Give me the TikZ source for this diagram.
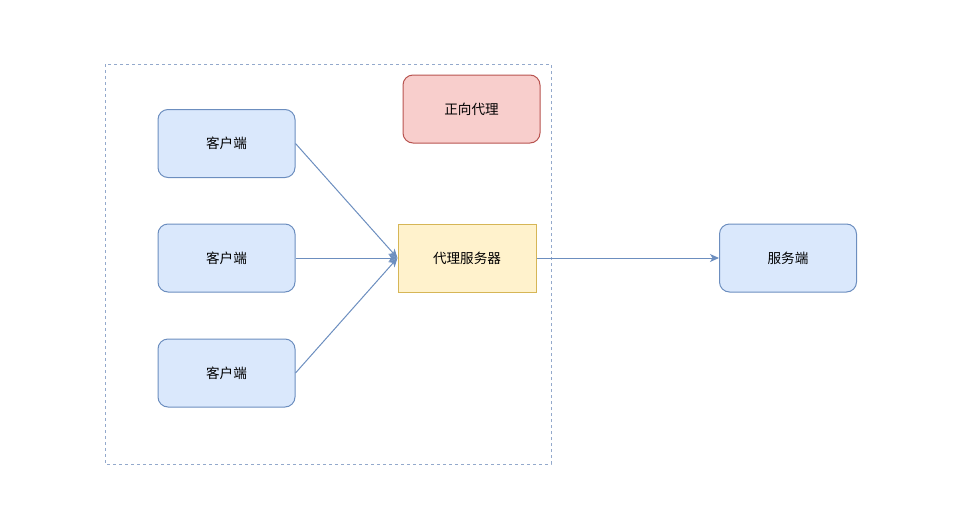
\documentclass[tikz,border=0pt]{standalone}
\usepackage{fontspec}
\newfontfamily\cjk{Noto Sans CJK SC}
\usetikzlibrary{arrows.meta}
\definecolor{bluefill}{HTML}{DAE8FC}
\definecolor{bluestroke}{HTML}{6C8EBF}
\definecolor{redfill}{HTML}{F8CECC}
\definecolor{redstroke}{HTML}{B85450}
\definecolor{yelfill}{HTML}{FFF2CC}
\definecolor{yelstroke}{HTML}{D6B656}
\definecolor{dashcol}{HTML}{93A9CC}
\begin{document}
\begin{tikzpicture}[x=1pt,y=-1pt,
  every node/.style={font=\cjk\fontsize{13.6}{16}\selectfont, text=black},
  bluebox/.style={draw=bluestroke, fill=bluefill, rounded corners=10pt, minimum width=137pt, minimum height=68pt, inner sep=0pt, line width=1pt},
  redbox/.style={draw=redstroke, fill=redfill, rounded corners=10pt, minimum width=137pt, minimum height=68pt, inner sep=0pt, line width=1pt},
  yelbox/.style={draw=yelstroke, fill=yelfill, minimum width=138pt, minimum height=68pt, inner sep=0pt, line width=1pt},
  conn/.style={draw=bluestroke, line width=1pt, -{Stealth[length=9pt,width=8pt,inset=2.5pt]}},
]
\useasboundingbox (0,0) rectangle (956,517);
\draw[dashcol, line width=1pt, dash pattern=on 3pt off 3pt] (105,64) rectangle (551,464);
\node[redbox] (fwd) at (471.5,109) {正向代理};
\node[bluebox] (c1) at (226.5,143.5) {客户端};
\node[bluebox] (c2) at (226.5,258) {客户端};
\node[bluebox] (c3) at (226.5,373) {客户端};
\node[yelbox] (proxy) at (467,258) {代理服务器};
\node[bluebox] (srv) at (788,258) {服务端};
\draw[conn] (c1.east) -- (proxy.west);
\draw[conn] (c2.east) -- (proxy.west);
\draw[conn] (c3.east) -- (proxy.west);
\draw[conn] (proxy.east) -- (srv.west);
\end{tikzpicture}
\end{document}
